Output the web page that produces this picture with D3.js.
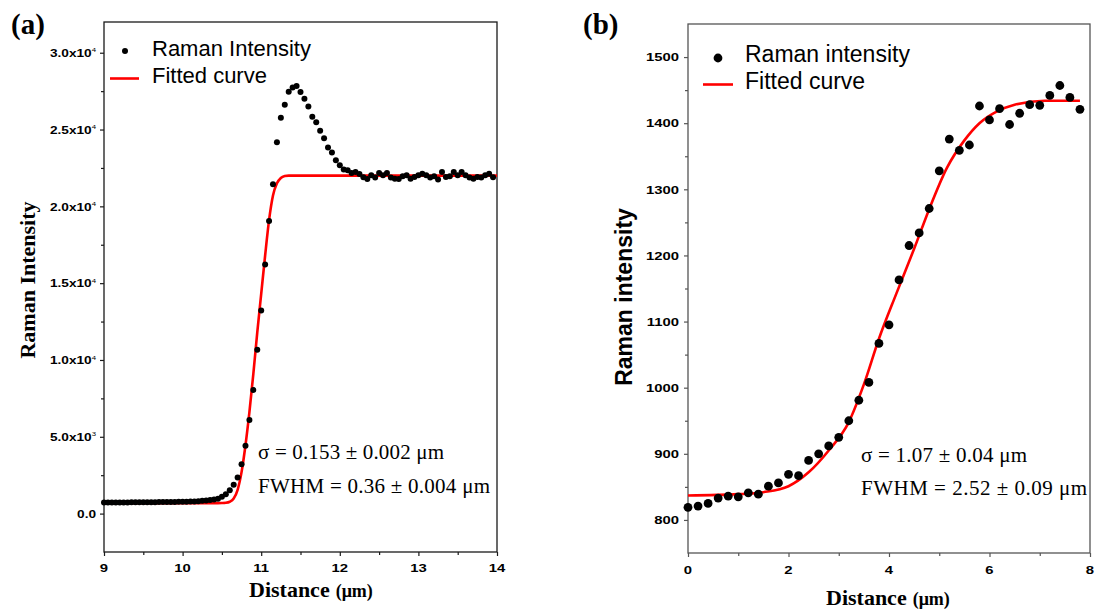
<!DOCTYPE html>
<html>
<head>
<meta charset="utf-8">
<script src="https://cdn.jsdelivr.net/npm/d3@7"></script>
<style>
  body { margin: 0; background: #fff; }
  svg { display: block; }
</style>
</head>
<body>
<div id="chart"></div>
<script>
// ---- panel (a) data ----
const ramanAX = [
  9.00, 9.05, 9.10, 9.15, 9.20, 9.25, 9.30, 9.35, 9.40, 9.45, 9.50, 9.55, 9.60, 9.65, 9.70, 9.75, 9.80, 9.85, 9.90, 9.95,
  10.00, 10.05, 10.10, 10.15, 10.20, 10.25, 10.30, 10.35, 10.40, 10.45, 10.50, 10.55, 10.60, 10.65, 10.70, 10.75, 10.80, 10.85, 10.90, 10.95,
  11.00, 11.05, 11.10, 11.15, 11.20, 11.25, 11.30, 11.35, 11.40, 11.45, 11.50, 11.55, 11.60, 11.65, 11.70, 11.75, 11.80, 11.85, 11.90, 11.95,
  12.00, 12.05, 12.10, 12.15, 12.20, 12.25, 12.30, 12.35, 12.40, 12.45, 12.50, 12.55, 12.60, 12.65, 12.70, 12.75, 12.80, 12.85, 12.90, 12.95,
  13.00, 13.05, 13.10, 13.15, 13.20, 13.25, 13.30, 13.35, 13.40, 13.45, 13.50, 13.55, 13.60, 13.65, 13.70, 13.75, 13.80, 13.85, 13.90, 13.95
];
const ramanAY = [
  720, 720, 722, 724, 726, 728, 730, 732, 734, 736, 738, 740, 742, 745, 748, 750, 753, 756, 760, 764,
  770, 776, 784, 795, 810, 828, 850, 878, 915, 965, 1090, 1265, 1525, 1870, 2350, 3220, 4415, 6090, 8050, 10660,
  13220, 16220, 19040, 21436, 24175, 25760, 26607, 27456, 27740, 27830, 27437, 27000, 26500, 25825, 25480, 24913, 24437, 23830, 23500, 23000,
  22674, 22400, 22350, 22170, 22240, 22100, 21900, 21780, 22020, 21870, 22170, 22020, 22170, 21870, 21800, 21780, 21960, 22020, 21800, 21910,
  22020, 22130, 22020, 21870, 21960, 21740, 22240, 21910, 21960, 22240, 22020, 22240, 22020, 21870, 21800, 21910, 21870, 22020, 22130, 21900
];
const fitAX = [9, 10.45, 10.5, 10.55, 10.6, 10.65, 10.7, 10.75, 10.8, 10.85, 10.9, 10.95, 11.0, 11.05, 11.1, 11.15, 11.2, 11.25, 11.3, 11.35, 11.4, 14];
const fitAY = [680, 682, 688, 705, 770, 980, 1550, 2700, 4450, 6600, 9100, 11800, 14300, 16800, 19100, 20700, 21500, 21850, 21970, 22000, 22000, 22000];

const xTicksA = [9, 10, 11, 12, 13, 14];
const xMinorA = [9.5, 10.5, 11.5, 12.5, 13.5];
const yTicksA = [0, 5000, 10000, 15000, 20000, 25000, 30000];
const yTickMantA = ["0.0", "5.0x10", "1.0x10", "1.5x10", "2.0x10", "2.5x10", "3.0x10"];
const yTickExpA = ["", "3", "4", "4", "4", "4", "4"];
const yMinorA = [2500, 7500, 12500, 17500, 22500, 27500];

// ---- panel (b) data ----
const ramanBX = [0, 0.2, 0.4, 0.6, 0.8, 1.0, 1.2, 1.4, 1.6, 1.8, 2.0, 2.2, 2.4, 2.6, 2.8, 3.0, 3.2, 3.4, 3.6, 3.8,
  4.0, 4.2, 4.4, 4.6, 4.8, 5.0, 5.2, 5.4, 5.6, 5.8, 6.0, 6.2, 6.4, 6.6, 6.8, 7.0, 7.2, 7.4, 7.6, 7.8];
const ramanBY = [819, 821, 825, 833, 836, 835, 841, 839, 851, 856, 869, 867, 890, 900, 912, 925, 950, 981, 1008, 1067,
  1095, 1163, 1215, 1234, 1271, 1328, 1376, 1359, 1367, 1426, 1405, 1422, 1398, 1415, 1428, 1427, 1442, 1457, 1439, 1421];
const fitBX = [0, 1.0, 1.5, 2.0, 2.4, 2.8, 3.2, 3.5, 3.8, 4.15, 4.5, 4.8, 5.15, 5.5, 5.8, 6.15, 6.5, 7.1, 7.8];
const fitBY = [837, 839, 842, 851, 872, 905, 948, 1005, 1074, 1143, 1210, 1270, 1332, 1374, 1400, 1418, 1428, 1434, 1434];

const xTicksB = [0, 2, 4, 6, 8];
const xMinorB = [1, 3, 5, 7];
const yTicksB = [800, 900, 1000, 1100, 1200, 1300, 1400, 1500];
const yMinorB = [850, 950, 1050, 1150, 1250, 1350, 1450];

const svg = d3.select("#chart").append("svg").attr("width", 1097).attr("height", 609);

const SANS = "'Liberation Sans', Arial, sans-serif";
const SERIF = "'Liberation Serif', 'Times New Roman', serif";

function drawPanel(o) {
  const x = d3.scaleLinear().domain(o.xDomain).range([o.left, o.right]);
  const y = d3.scaleLinear().domain(o.yDomain).range([o.bottom, o.top]);
  const g = svg.append("g");

  // ticks (outward) on left and bottom
  const tickAxis = (axis, vals, size, tr) =>
    g.append("g").attr("transform", tr)
      .call(axis.tickValues(vals).tickSize(size).tickFormat(""))
      .call(s => s.select(".domain").remove())
      .call(s => s.selectAll("line").attr("stroke", o.frameColor).attr("stroke-width", 1.2));
  tickAxis(d3.axisBottom(x), o.xTicks, 4, `translate(0,${o.bottom})`);
  tickAxis(d3.axisBottom(x), o.xMinor, 3, `translate(0,${o.bottom})`);
  tickAxis(d3.axisLeft(y), o.yTicks, 4, `translate(${o.left},0)`);
  tickAxis(d3.axisLeft(y), o.yMinor, 3, `translate(${o.left},0)`);

  // frame
  g.append("rect")
    .attr("x", o.left).attr("y", o.top)
    .attr("width", o.right - o.left).attr("height", o.bottom - o.top)
    .attr("fill", "none").attr("stroke", o.frameColor).attr("stroke-width", 1.3);

  // x tick labels
  g.selectAll(".xlab").data(o.xTicks).join("text")
    .attr("transform", d => `translate(${x(d)},${o.bottom + o.xLabDy}) scale(1.28,1)`)
    .attr("text-anchor", "middle")
    .style("font-family", SANS).style("font-weight", "bold").style("font-size", "11.6px")
    .text(d => d);

  // y tick labels
  const yl = g.selectAll(".ylab").data(o.yTicks).join("text")
    .attr("transform", d => `translate(${o.left - o.yLabGap},${y(d) + 4.2}) scale(${o.yLabScale},1)`)
    .attr("text-anchor", "end")
    .style("font-family", SANS).style("font-weight", "bold").style("font-size", o.yLabSize + "px");
  yl.each(function (d, i) {
    const t = d3.select(this);
    if (o.yMant) {
      t.append("tspan").text(o.yMant[i]);
      if (o.yExp[i]) t.append("tspan").attr("dy", -4.5).style("font-size", "6px").style("font-weight", "normal").text(o.yExp[i]);
    } else {
      t.text(d);
    }
  });

  // fitted curve
  const fit = o.fitX.map((v, i) => [v, o.fitY[i]]);
  g.append("path").datum(fit)
    .attr("fill", "none").attr("stroke", "#ff0000").attr("stroke-width", 2.6)
    .attr("d", d3.line().x(d => x(d[0])).y(d => y(d[1])).curve(d3.curveMonotoneX));

  // data points
  const pts = o.dataX.map((v, i) => [v, o.dataY[i]]);
  g.selectAll(".pt").data(pts).join("circle")
    .attr("cx", d => x(d[0])).attr("cy", d => y(d[1]))
    .attr("r", o.r).attr("fill", "#000");

  // legend
  g.append("circle").attr("cx", o.leg.dotX).attr("cy", o.leg.dotY).attr("r", o.r).attr("fill", "#000");
  g.append("line")
    .attr("x1", o.leg.lineX1).attr("x2", o.leg.lineX2).attr("y1", o.leg.lineY).attr("y2", o.leg.lineY)
    .attr("stroke", "#ff0000").attr("stroke-width", 2.6);
  g.append("text").attr("x", o.leg.textX).attr("y", o.leg.y1)
    .style("font-family", SANS).style("font-size", o.leg.size + "px").text(o.leg.label1);
  g.append("text").attr("x", o.leg.textX).attr("y", o.leg.y2)
    .style("font-family", SANS).style("font-size", o.leg.size + "px").text("Fitted curve");

  // fit annotation
  o.notes.forEach(n => {
    g.append("text").attr("x", n.x).attr("y", n.y)
      .attr("textLength", n.w).attr("lengthAdjust", "spacing")
      .style("font-family", SERIF).style("font-size", "21px").text(n.text);
  });

  // x axis title
  const xt = g.append("text").attr("x", o.xTitle.x).attr("y", o.xTitle.y)
    .style("font-family", SERIF).style("font-weight", "bold").style("font-size", "22px");
  xt.append("tspan").text("Distance");
  xt.append("tspan").attr("dx", 6).style("font-size", "18px").text("(μm)");

  // y axis title
  g.append("text")
    .attr("transform", `translate(${o.yTitle.x},${o.yTitle.y}) rotate(-90)`)
    .attr("text-anchor", "middle")
    .style("font-family", o.yTitle.font).style("font-weight", "bold").style("font-size", o.yTitle.size + "px")
    .text(o.yTitle.text);

  // panel letter
  g.append("text").attr("x", o.letter.x).attr("y", o.letter.y)
    .style("font-family", SERIF).style("font-weight", "bold").style("font-size", "29px")
    .text(o.letter.text);
}

drawPanel({
  left: 104, right: 497, top: 22, bottom: 552,
  xDomain: [9, 14], yDomain: [-2500, 32000],
  xTicks: xTicksA, xMinor: xMinorA, yTicks: yTicksA, yMinor: yMinorA,
  yMant: yTickMantA, yExp: yTickExpA, yLabSize: 10.5, yLabScale: 1.3, yLabGap: 8,
  xLabDy: 20, frameColor: "#1a1a1a",
  dataX: ramanAX, dataY: ramanAY, fitX: fitAX, fitY: fitAY, r: 3,
  leg: { dotX: 125, dotY: 51, lineX1: 110, lineX2: 139, lineY: 78.5, textX: 152, y1: 56, y2: 83, size: 22, label1: "Raman Intensity" },
  notes: [
    { x: 258, y: 459, w: 186, text: "σ = 0.153 ± 0.002 μm" },
    { x: 258, y: 493, w: 232, text: "FWHM = 0.36 ± 0.004 μm" }
  ],
  xTitle: { x: 249, y: 597 },
  yTitle: { x: 35, y: 280, text: "Raman Intensity", font: SERIF, size: 22 },
  letter: { x: 11, y: 34, text: "(a)" }
});

drawPanel({
  left: 688, right: 1090, top: 24, bottom: 553,
  xDomain: [0, 8], yDomain: [750, 1550],
  xTicks: xTicksB, xMinor: xMinorB, yTicks: yTicksB, yMinor: yMinorB,
  yLabSize: 11.6, yLabScale: 1.28, yLabGap: 9,
  xLabDy: 20.5, frameColor: "#555",
  dataX: ramanBX, dataY: ramanBY, fitX: fitBX, fitY: fitBY, r: 4.4,
  leg: { dotX: 718, dotY: 58, lineX1: 703, lineX2: 733, lineY: 84.5, textX: 745, y1: 62, y2: 89, size: 23, label1: "Raman intensity" },
  notes: [
    { x: 861, y: 462, w: 166, text: "σ = 1.07 ± 0.04 μm" },
    { x: 861, y: 495, w: 226, text: "FWHM = 2.52 ± 0.09 μm" }
  ],
  xTitle: { x: 826, y: 605 },
  yTitle: { x: 632, y: 297, text: "Raman intensity", font: SANS, size: 23 },
  letter: { x: 583, y: 34, text: "(b)" }
});
</script>
</body>
</html>
